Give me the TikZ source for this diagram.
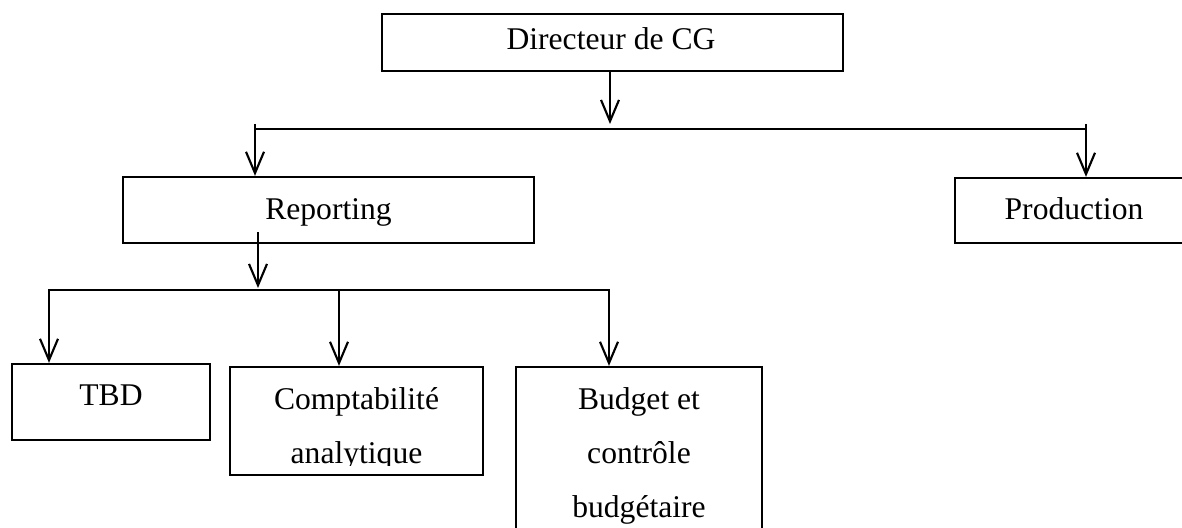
\documentclass[tikz,border=0pt]{standalone}
\usepackage{fontspec}
\setmainfont{Liberation Serif}
\usetikzlibrary{arrows.meta}
\begin{document}
\begin{tikzpicture}[x=0.75pt,y=-0.75pt,
  box/.style={draw, line width=1.7pt, inner sep=0pt},
  lbl/.style={inner sep=0pt, anchor=base, font=\fontsize{23.7pt}{41pt}\selectfont},
  ln/.style={line width=1.6pt},
  arr/.style={line width=1.6pt, -{Straight Barb[length=16pt,width=13.5pt,line width=1.6pt]}}]
\useasboundingbox (0,0) rectangle (1182,528);

% boxes
\node[box, minimum width=345.75pt, minimum height=42.75pt] (dir) at (612.5,42.5) {};
\node[box, minimum width=308.25pt, minimum height=49.5pt] (rep) at (328.5,210) {};
\node[box, minimum width=178.5pt, minimum height=48.75pt] (prod) at (1074,210.5) {};
\node[box, minimum width=148.5pt, minimum height=57pt] (tbd) at (111,402) {};
\node[box, minimum width=189.75pt, minimum height=81pt] (comp) at (356.5,421) {};
\node[box, minimum width=184.5pt, minimum height=144.75pt] (bud) at (639,463.5) {};

% texts
\node[lbl] (dirT) at (611,50) {Directeur de CG};
\node[lbl] (repT) at (328.5,219) {Reporting};
\node[lbl] (prodT) at (1074,219) {Production};
\node[lbl] (tbdT) at (111,405) {TBD};
\node[lbl] (compT1) at (356.5,409) {Comptabilité};
\begin{scope}
\clip (230,367) rectangle (483,465);
\node[lbl] (compT2) at (356.5,463) {analytique};
\end{scope}
\node[lbl] (budT1) at (639,409) {Budget et};
\node[lbl] (budT2) at (639,463) {contrôle};
\node[lbl] (budT3) at (639,517) {budgétaire};

% top level connectors
\coordinate (t1) at (610,124);
\coordinate (bL) at (255,129);
\coordinate (bR) at (1086,129);
\draw[arr] (dir.south -| t1) -- (t1);
\draw[ln] (bL) -- (bR);
\draw[arr] (bL |- t1) -- (rep.north -| bL);
\draw[arr] (bR |- t1) -- (prod.north -| bR);

% second level connectors
\coordinate (r0) at (258,232);
\coordinate (r1) at (258,288);
\coordinate (cL) at (49,290);
\coordinate (cM) at (339,290);
\coordinate (cR) at (609,290);
\draw[arr] (r0) -- (r1);
\draw[arr] (cM) -| (tbd.north -| cL);
\draw[arr] (cM) -| (bud.north -| cR);
\draw[arr] (cM) -- (comp.north -| cM);
\end{tikzpicture}
\end{document}
